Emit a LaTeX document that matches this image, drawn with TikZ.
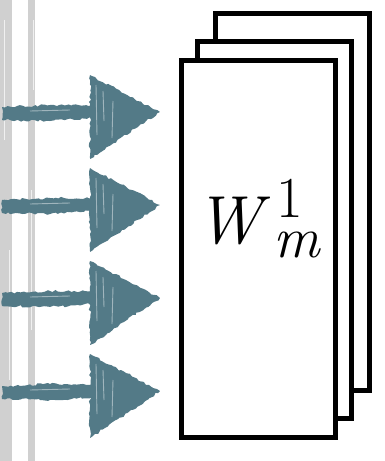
\documentclass[tikz,border=0pt]{standalone}
\usetikzlibrary{decorations.pathmorphing}
\definecolor{flecha}{RGB}{83,122,135}
\definecolor{riel}{RGB}{208,208,208}
\begin{document}
\begin{tikzpicture}[x=1pt,y=-1pt,
	hoja/.style={draw=black,line width=5pt,fill=white,inner sep=0pt},
	rough/.style={decorate,decoration={random steps,segment length=3pt,amplitude=1.2pt}}]
	\useasboundingbox (0,0) rectangle (385,461);
	
	% Rieles
	\fill[riel] (0,0) rectangle (12,461);
	\fill[riel] (28,0) rectangle (35,461);
	\draw[white,line width=0.8pt,opacity=.7] (4,20) -- (4,140) (9,250) -- (9,380) (31,190) -- (31,330) (33,20) -- (33,90);
	
	% Hojas
	\node[hoja,minimum width=154pt,minimum height=377pt] (w3) at (292.5,201.75) {};
	\node[hoja,minimum width=154pt,minimum height=377pt] (w2) at (274.5,230) {};
	\node[hoja,minimum width=154pt,minimum height=377pt] (w1) at (258.25,248.75) {};
	
	% Etiqueta
	\node[inner sep=0pt,anchor=base west,font=\fontsize{68}{68}\selectfont] (lbl) at (195,243)
		{\textit{W}\kern3pt\rlap{\kern3pt\raisebox{26pt}{\fontsize{58}{58}\selectfont 1}}\raisebox{-14pt}{\fontsize{58}{58}\selectfont\itshape m}};
	
	% Flechas
	\foreach \y [count=\i] in {113,206,299,392} {
		\coordinate (a\i) at (2,\y);
		\coordinate (b\i) at (160,\y-1);
		\fill[flecha,rough] (a\i) ++(0,-6) -- (50,\y-8) -- (95,\y-8) -- (95,\y+5) -- (50,\y+8) -- ++(-48,-1) -- cycle;
		\fill[flecha,rough] (90,\y-38) -- (b\i) -- (90,\y+46) -- cycle;
		\draw[white,opacity=.45,line width=0.9pt] (96,\y-28) -- (97,\y+22) (103,\y-22) -- (104,\y+8) (113,\y-12) -- (112,\y+25) (30,\y-2) -- (70,\y-3);
	}
	
\end{tikzpicture}
\end{document}
